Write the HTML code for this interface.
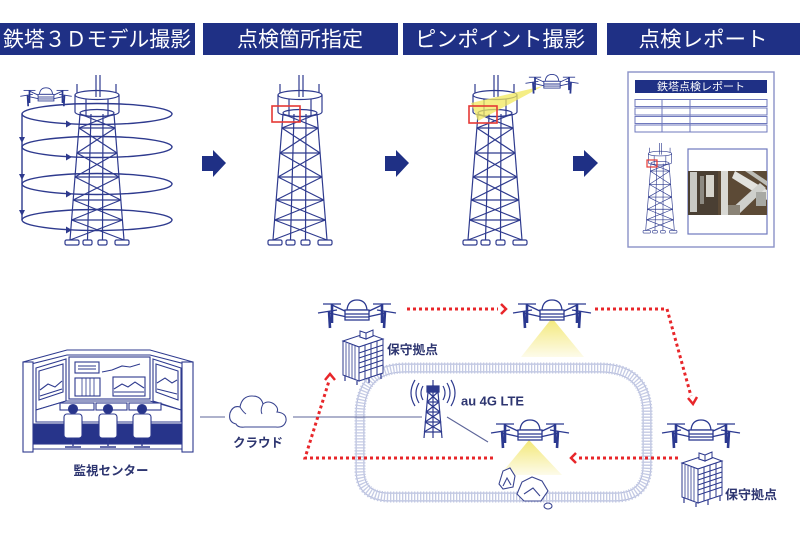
<!DOCTYPE html>
<html><head><meta charset="utf-8">
<style>
html,body{margin:0;padding:0;background:#fff;}
svg{display:block;}
text{font-family:"Liberation Sans","Noto Sans CJK JP",sans-serif;}
</style></head>
<body>
<svg width="800" height="533" viewBox="0 0 800 533" xmlns="http://www.w3.org/2000/svg">
<defs>
 <linearGradient id="cone" x1="0" y1="0" x2="0" y2="1">
  <stop offset="0" stop-color="#f3e878"/><stop offset="1" stop-color="#fdfbea"/>
 </linearGradient>
 <g id="tower" fill="none" stroke="#2e3a8e" stroke-width="1.2">
  <line x1="-1" y1="75" x2="-1" y2="97"/><line x1="3" y1="75" x2="3" y2="97"/>
  <line x1="-20" y1="84" x2="-20" y2="93"/><line x1="19" y1="84" x2="19" y2="93"/>
  <ellipse cx="0" cy="95" rx="22" ry="4.5"/>
  <line x1="-22" y1="95" x2="-22" y2="112"/><line x1="22" y1="95" x2="22" y2="112"/>
  <line x1="-11" y1="99" x2="-11" y2="116"/><line x1="11" y1="99" x2="11" y2="116"/>
  <path d="M-22,112 A22,4.5 0 0 0 22,112"/>
  <ellipse cx="0" cy="113" rx="17" ry="3.5"/>
  <line x1="-17" y1="114" x2="-27" y2="240"/><line x1="17" y1="114" x2="27" y2="240"/>
  <line x1="-6" y1="114" x2="-9.5" y2="240"/><line x1="6" y1="114" x2="5.5" y2="240"/>
  <line x1="-18.1" y1="128" x2="18.1" y2="128"/>
  <line x1="-20.1" y1="153" x2="20.1" y2="153"/>
  <line x1="-22" y1="177" x2="22" y2="177"/>
  <line x1="-23.8" y1="200" x2="23.8" y2="200"/>
  <line x1="-25.4" y1="220" x2="25.4" y2="220"/>
  <line x1="-17" y1="114" x2="18.1" y2="128"/><line x1="17" y1="114" x2="-18.1" y2="128"/>
  <line x1="-18.1" y1="128" x2="20.1" y2="153"/><line x1="18.1" y1="128" x2="-20.1" y2="153"/>
  <line x1="-20.1" y1="153" x2="22" y2="177"/><line x1="20.1" y1="153" x2="-22" y2="177"/>
  <line x1="-22" y1="177" x2="23.8" y2="200"/><line x1="22" y1="177" x2="-23.8" y2="200"/>
  <line x1="-23.8" y1="200" x2="25.4" y2="220"/><line x1="23.8" y1="200" x2="-25.4" y2="220"/>
  <line x1="-25.4" y1="220" x2="27" y2="240"/><line x1="25.4" y1="220" x2="-27" y2="240"/>
  <rect x="-32" y="240" width="14" height="5" rx="1.5"/>
  <rect x="-14" y="240" width="9" height="5" rx="1.5"/>
  <rect x="1" y="240" width="9" height="5" rx="1.5"/>
  <rect x="18" y="240" width="14" height="5" rx="1.5"/>
 </g>
 <g id="drone" fill="none" stroke="#2b3990" stroke-width="1.3">
  <line x1="-34" y1="-10" x2="-16" y2="-10"/>
  <line x1="16" y1="-10" x2="34" y2="-10"/>
  <line x1="-39" y1="-1" x2="-20" y2="-4"/>
  <line x1="20" y1="-4" x2="39" y2="-1"/>
  <line x1="-10" y1="-2" x2="-25" y2="-9"/>
  <line x1="10" y1="-2" x2="25" y2="-9"/>
  <line x1="-10" y1="3" x2="-28" y2="-1"/>
  <line x1="10" y1="3" x2="28" y2="-1"/>
  <path d="M-25,-10 L-25,9 M25,-10 L25,9 M-28,-3 L-27,14 M28,-3 L27,14" stroke-width="2.6"/>
  <path d="M-10,-4 Q-9,-14 0,-14 Q9,-14 10,-4 Z" fill="#fff"/>
  <rect x="-12" y="-4" width="24" height="10" fill="#fff"/>
  <line x1="-12" y1="0" x2="12" y2="0"/><line x1="-12" y1="3" x2="12" y2="3"/>
 </g>
 <g id="bld" stroke="#2e3a8e" stroke-width="1" fill="#fff">
  <polygon points="0,12 24,4 40,10 16,18"/>
  <polygon points="0,12 16,18 16,52 0,46"/>
  <polygon points="16,18 40,10 40,44 16,52"/>
  <polygon points="17,8 24,5 30,7 23,10" fill="#fff"/>
  <polygon points="17,8 23,10 23,4 17,2" fill="#fff"/>
  <polygon points="23,10 30,7 30,1 23,4" fill="#fff"/>
  <path d="M3,14 V47 M6,15 V48 M9,16 V49 M12,17 V50" stroke-width="0.8"/>
  <path d="M16,24 L40,16 M16,29 L40,21 M16,34 L40,26 M16,39 L40,31 M16,44 L40,36 M22,16 V50 M28,14 V48 M34,12 V46" stroke-width="1"/>
  <path d="M2,47 V52 M14,52 V56 M38,45 V50 M26,49 V54" stroke-width="1.2"/>
 </g>
</defs>

<!-- Header bars -->
<rect x="0" y="23" width="195" height="32" fill="#1f3085"/>
<rect x="203" y="23" width="195" height="32" fill="#1f3085"/>
<rect x="403" y="23" width="194" height="32" fill="#1f3085"/>
<rect x="607" y="23" width="193" height="32" fill="#1f3085"/>
<text x="3" y="40" fill="#fff" font-size="21" dominant-baseline="central" textLength="188" lengthAdjust="spacingAndGlyphs">鉄塔３Ｄモデル撮影</text>
<text x="300" y="40" fill="#fff" font-size="21" dominant-baseline="central" text-anchor="middle" textLength="126" lengthAdjust="spacingAndGlyphs">点検箇所指定</text>
<text x="500" y="40" fill="#fff" font-size="21" dominant-baseline="central" text-anchor="middle" textLength="170" lengthAdjust="spacingAndGlyphs">ピンポイント撮影</text>
<text x="703" y="40" fill="#fff" font-size="21" dominant-baseline="central" text-anchor="middle" textLength="129" lengthAdjust="spacingAndGlyphs">点検レポート</text>

<!-- Tower 1 with orbits -->
<use href="#tower" x="97" y="0"/>
<g fill="none" stroke="#2e3a8e" stroke-width="1.4">
 <ellipse cx="97" cy="114" rx="75" ry="10.5"/>
 <ellipse cx="97" cy="147" rx="75" ry="10.5"/>
 <ellipse cx="97" cy="184" rx="75" ry="10.5"/>
 <ellipse cx="97" cy="220" rx="75" ry="10.5"/>
 <line x1="22" y1="114" x2="22" y2="220"/>
</g>
<g fill="#2e3a8e">
 <polygon points="19,137 25,137 22,143"/>
 <polygon points="19,174 25,174 22,180"/>
 <polygon points="19,210 25,210 22,216"/>
 <polygon points="66,120.5 66,127.5 72,124"/>
 <polygon points="66,153.5 66,160.5 72,157"/>
 <polygon points="66,190.5 66,197.5 72,194"/>
 <polygon points="66,226.5 66,233.5 72,230"/>
</g>
<use href="#drone" transform="translate(46,97) scale(0.66)"/>

<!-- Arrows -->
<g fill="#1f3085">
 <polygon points="202,156 213,156 213,150 226,163 213,177 213,171 202,171"/>
 <polygon points="385,156 396,156 396,150 409,163 396,177 396,171 385,171"/>
 <polygon points="573,156 584,156 584,150 598,163 584,177 584,171 573,171"/>
</g>

<!-- Tower 2 -->
<use href="#tower" x="300" y="0"/>
<rect x="272" y="106" width="28" height="16" fill="none" stroke="#e53935" stroke-width="1.6"/>

<!-- Tower 3 -->
<use href="#tower" x="495" y="0"/>
<polygon points="543,86 471,103 478,121" fill="#f1e85c" opacity="0.75"/>
<rect x="469" y="106" width="28" height="17" fill="none" stroke="#e53935" stroke-width="1.6"/>
<use href="#drone" transform="translate(552,84) scale(0.68)"/>

<!-- Report -->
<rect x="628" y="72" width="146" height="175" fill="#fff" stroke="#8a92c8" stroke-width="1.4"/>
<rect x="635" y="80" width="132" height="13" fill="#1f3085"/>
<text x="701" y="86.8" fill="#fff" font-size="10.5" text-anchor="middle" dominant-baseline="central" textLength="88" lengthAdjust="spacingAndGlyphs">鉄塔点検レポート</text>
<g fill="none" stroke="#6f79bd" stroke-width="1">
 <rect x="635" y="99.5" width="132" height="7"/>
 <rect x="635" y="108" width="132" height="7"/>
 <rect x="635" y="116.5" width="132" height="7"/>
 <rect x="635" y="125" width="132" height="7"/>
 <line x1="662" y1="99.5" x2="662" y2="132"/>
 <line x1="690" y1="99.5" x2="690" y2="132"/>
</g>
<use href="#tower" transform="translate(660,143) scale(0.53) translate(0,-75)"/>
<rect x="647" y="160" width="10" height="7" fill="none" stroke="#e53935" stroke-width="1.2"/>
<rect x="688" y="149" width="79" height="85" fill="#fff" stroke="#6f79bd" stroke-width="1.2"/>
<g>
 <rect x="688" y="171" width="79" height="44" fill="#5c4a36"/>
 <rect x="688" y="171" width="30" height="44" fill="#4a3f33"/>
 <rect x="690" y="172" width="7" height="40" fill="#c9c9c4"/>
 <rect x="700" y="176" width="4" height="28" fill="#8d8a82"/>
 <rect x="706" y="175" width="8" height="22" fill="#d6d4cc"/>
 <rect x="721" y="171" width="7" height="44" fill="#d9d9d4"/>
 <polygon points="735,171 767,190 767,200 732,178" fill="#e2e2de"/>
 <polygon points="730,210 760,183 766,188 738,215" fill="#cfd0cc"/>
 <polygon points="745,171 752,171 767,181 767,186" fill="#bdbdb7"/>
 <rect x="756" y="192" width="10" height="14" fill="#a8a9a4"/>
 <rect x="728" y="205" width="12" height="10" fill="#8a8376"/>
</g>

<!-- ===== Bottom section ===== -->
<!-- track -->
<path d="M405,368 L600,368 Q645,368 647,410 L647,465 Q647,497 615,497 L390,497 Q360,497 360,470 L360,412 Q362,368 405,368 Z" fill="none" stroke="#b9c0de" stroke-width="9"/>
<path d="M405,368 L600,368 Q645,368 647,410 L647,465 Q647,497 615,497 L390,497 Q360,497 360,470 L360,412 Q362,368 405,368 Z" fill="none" stroke="#fff" stroke-width="6.5"/>
<path d="M405,368 L600,368 Q645,368 647,410 L647,465 Q647,497 615,497 L390,497 Q360,497 360,470 L360,412 Q362,368 405,368 Z" fill="none" stroke="#c4cae4" stroke-width="11" stroke-dasharray="1.3 1.7"/>

<!-- control center -->
<g stroke="#2e3a8e" stroke-width="1.1" fill="#fff">
 <path d="M23,362 L67,350 L150,350 L193,362 L193,366 L150,355 L67,355 L23,366 Z"/>
 <rect x="33" y="424" width="149" height="20" fill="#27348a"/>
 <polygon points="36,368 66,359 66,401 36,410"/>
 <polygon points="39,371 63,364 63,392 39,400" fill="#fff"/>
 <rect x="69" y="357" width="81" height="42"/>
 <polygon points="153,359 181,368 181,410 153,401"/>
 <polygon points="156,364 178,371 178,400 156,392" fill="#fff"/>
 <rect x="75" y="362" width="24" height="11"/>
 <line x1="78" y1="366" x2="96" y2="366"/><line x1="78" y1="369" x2="96" y2="369"/>
 <polyline points="102,372 112,370 122,366 130,367 140,364" fill="none"/>
 <rect x="75" y="378" width="25" height="18"/>
 <path d="M82,378 V396 M86,378 V396 M90,378 V396 M94,378 V396" stroke-width="0.8"/>
 <rect x="113" y="377" width="32" height="19"/>
 <path d="M114,389 L122,384 L128,387 L135,382 L144,388 M114,392 H144" fill="none"/>
 <path d="M40,390 L48,384 L55,387 L62,381 M40,396 L62,389 M157,383 L165,378 L172,383 L177,380 M157,389 L177,394" fill="none"/>
 <polygon points="36,410 66,401 150,401 181,410 181,422 36,422"/>
 <rect x="60" y="403" width="34" height="7"/>
 <rect x="96" y="403" width="31" height="7"/>
 <rect x="129" y="403" width="32" height="7"/>
 <rect x="23" y="362" width="10" height="90"/>
 <rect x="182" y="362" width="11" height="90"/>
 <line x1="33" y1="449" x2="182" y2="449"/>
</g>
<g stroke="#2e3a8e" stroke-width="1.1">
 <circle cx="73" cy="409" r="4.5" fill="#27348a"/>
 <circle cx="108" cy="409" r="4.5" fill="#27348a"/>
 <circle cx="142" cy="409" r="4.5" fill="#27348a"/>
 <rect x="64" y="414" width="18" height="24" rx="3" fill="#fff"/>
 <rect x="99" y="414" width="18" height="24" rx="3" fill="#fff"/>
 <rect x="133" y="414" width="18" height="24" rx="3" fill="#fff"/>
 <path d="M73,438 V446 M65,447 H81 M108,438 V446 M100,447 H116 M142,438 V446 M134,447 H150" fill="none" stroke-width="1.4"/>
</g>
<text x="111" y="471" fill="#2d3570" font-size="12.5" font-weight="bold" text-anchor="middle" dominant-baseline="central" textLength="75" lengthAdjust="spacingAndGlyphs">監視センター</text>

<!-- cloud & lines -->
<g stroke="#5d6599" stroke-width="1.1" fill="none">
 <line x1="200" y1="417" x2="225" y2="417"/>
 <line x1="293" y1="417" x2="422" y2="417"/>
 <line x1="447" y1="417" x2="488" y2="442"/>
</g>
<path d="M236,424 Q228,422 230,413 Q233,405 240,407 Q242,396 252,396 Q261,396 263,404 Q268,400 274,404 Q279,408 277,412 Q287,413 286,421 Q284,428 276,427 L245,427 Q238,428 236,424 Z" fill="#fff" stroke="#3a4590" stroke-width="1.1"/>
<path d="M240,407 Q243,412 246,414 M263,404 Q260,410 262,414" fill="none" stroke="#3a4590" stroke-width="1"/>
<text x="258" y="443" fill="#2d3570" font-size="12.5" font-weight="bold" text-anchor="middle" dominant-baseline="central" textLength="50" lengthAdjust="spacingAndGlyphs">クラウド</text>

<!-- red dotted paths -->
<g fill="none" stroke="#e8262a" stroke-width="3" stroke-dasharray="3 3">
 <line x1="407" y1="309" x2="498" y2="309"/>
 <polyline points="595,309 667,309 691,396"/>
 <line x1="678" y1="458" x2="578" y2="458"/>
 <polyline points="493,458 305,458 329,381"/>
</g>
<g fill="none" stroke="#e8262a" stroke-width="2.5">
 <path d="M501,304 L506,309 L501,314"/>
 <path d="M688,398 L693,404 L697,397"/>
 <path d="M576,453 L571,458 L576,463"/>
 <path d="M325,380 L330,374 L335,380"/>
</g>

<!-- LTE tower -->
<g stroke="#2e3a8e" stroke-width="1.2" fill="none">
 <line x1="428" y1="392" x2="424" y2="438"/>
 <line x1="438" y1="392" x2="442" y2="438"/>
 <line x1="433" y1="385" x2="433" y2="438"/>
 <path d="M428,392 H438 M427,402 H439 M426,412 H440 M425,422 H441 M424,432 H442"/>
 <path d="M428,392 L439,402 M438,392 L427,402 M427,402 L440,412 M439,402 L426,412 M426,412 L441,422 M440,412 L425,422 M425,422 L442,432 M441,422 L424,432"/>
 <rect x="427" y="386" width="12" height="6" fill="#2e3a8e"/>
 <line x1="433" y1="380" x2="433" y2="386"/>
 <path d="M423,386 Q419,393 423,400 M419,383 Q413,393 419,403 M415,380 Q407,393 415,406"/>
 <path d="M443,386 Q447,393 443,400 M447,383 Q453,393 447,403 M451,380 Q459,393 451,406"/>
</g>
<text x="461" y="401" fill="#2d3570" font-size="13" font-weight="bold" dominant-baseline="central" textLength="63" lengthAdjust="spacingAndGlyphs">au 4G LTE</text>

<!-- drones & cones -->
<polygon points="552,318 521,357 584,357" fill="url(#cone)"/>
<polygon points="529,440 500,475 562,475" fill="url(#cone)"/>
<use href="#drone" transform="translate(357,314)"/>
<use href="#drone" transform="translate(552,314)"/>
<use href="#drone" transform="translate(530,434)"/>
<use href="#drone" transform="translate(701,434)"/>

<!-- buildings -->
<use href="#bld" transform="translate(343,329)"/>
<use href="#bld" transform="translate(682,451)"/>
<text x="387" y="350" fill="#2d3570" font-size="12.5" font-weight="bold" dominant-baseline="central" textLength="51" lengthAdjust="spacingAndGlyphs">保守拠点</text>
<text x="725" y="495" fill="#2d3570" font-size="12.5" font-weight="bold" dominant-baseline="central" textLength="52" lengthAdjust="spacingAndGlyphs">保守拠点</text>

<!-- rocks -->
<g fill="#fff" stroke="#3a4590" stroke-width="1.1">
 <path d="M499,484 L503,471 L510,468 L515,476 L513,487 L503,489 Z"/>
 <path d="M503,486 L507,478 L511,485" fill="none"/>
 <path d="M517,494 L522,482 L532,477 L542,481 L548,491 L541,501 L524,501 Z"/>
 <path d="M524,494 L533,488 L540,496" fill="none"/>
 <ellipse cx="548" cy="506" rx="4" ry="3"/>
</g>
</svg>
</body></html>
